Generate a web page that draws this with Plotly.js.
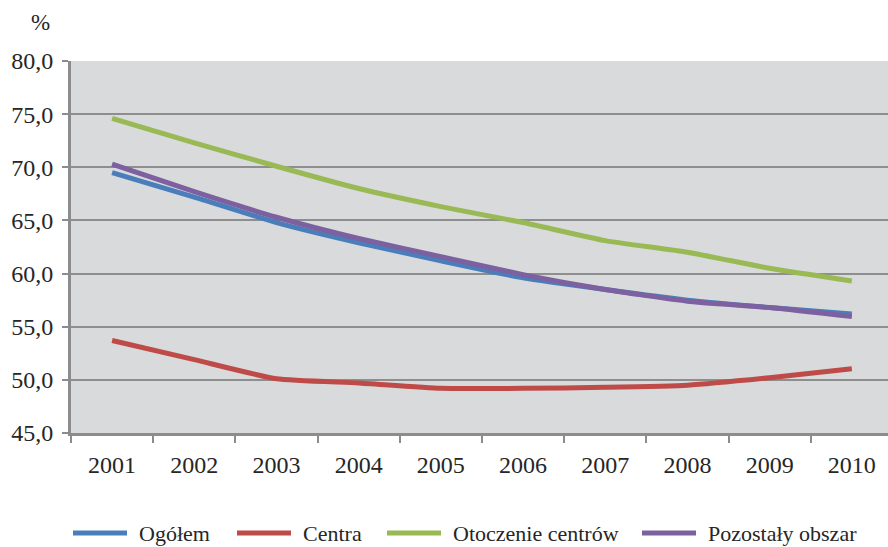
<!DOCTYPE html>
<html>
<head>
<meta charset="utf-8">
<script src="https://cdn.plot.ly/plotly-3.0.1.min.js"></script>
<style>html,body{margin:0;padding:0;background:#fff;}#chart{width:888px;height:547px;}</style>
</head>
<body>
<div id="chart"></div>
<script>
const years = ["2001","2002","2003","2004","2005","2006","2007","2008","2009","2010"];
const ogolem = [69.5, 67.2, 64.8, 62.9, 61.2, 59.6, 58.5, 57.5, 56.8, 56.2];
const centra = [53.7, 51.9, 50.1, 49.7, 49.2, 49.2, 49.3, 49.5, 50.2, 51.05];
const otoczenie = [74.6, 72.3, 70.1, 68.0, 66.3, 64.8, 63.1, 62.0, 60.5, 59.3];
const pozostaly = [70.3, 67.7, 65.3, 63.3, 61.6, 59.9, 58.5, 57.4, 56.8, 55.95];
const seriesNames = ["Ogółem", "Centra", "Otoczenie centrów", "Pozostały obszar"];
const colors = ["#4A7EBB", "#BE4B48", "#98B954", "#7D60A0"];

const font = "'Liberation Serif', 'Times New Roman', serif";
const textColor = "#262626";
const allSeries = [ogolem, centra, otoczenie, pozostaly];
const traces = allSeries.map((vals, i) => ({
  type: "scatter",
  mode: "lines",
  x: years,
  y: vals,
  name: seriesNames[i],
  line: {color: colors[i], width: 5, shape: "spline", smoothing: 0.5},
  hoverinfo: "x+y+name",
  showlegend: false
}));

// Custom legend (long line samples as in the reference), pixel layout converted to paper coords
const plotL = 71, plotW = 817, plotB = 433, plotH = 372;
const legLineStart = [73, 237, 387, 642];
const legLineLen = 54;
const legTextGap = 10;
const legY = 533;
const px2x = p => (p - plotL) / plotW;
const py2y = p => (plotB - p) / plotH;

const shapes = seriesNames.map((n, i) => ({
  type: "line", xref: "paper", yref: "paper",
  x0: px2x(legLineStart[i]), x1: px2x(legLineStart[i] + legLineLen),
  y0: py2y(legY), y1: py2y(legY),
  line: {color: colors[i], width: 5}
}));
const legendAnn = seriesNames.map((n, i) => ({
  text: n, xref: "paper", yref: "paper",
  x: px2x(legLineStart[i] + legLineLen + legTextGap), y: py2y(legY),
  xanchor: "left", yanchor: "middle", showarrow: false,
  font: {family: font, size: 22, color: textColor}
}));

const layout = {
  width: 888, height: 547,
  margin: {l: 71, r: 0, t: 61, b: 114},
  paper_bgcolor: "#ffffff",
  plot_bgcolor: "#D9DADC",
  separators: ", ",
  font: {family: font, size: 23, color: textColor},
  showlegend: false,
  xaxis: {
    type: "category",
    range: [-0.5, 9.44],
    showgrid: false,
    showline: true, linecolor: "#8C8C8C", linewidth: 3,
    ticks: "outside", tickson: "boundaries", ticklen: 7, tickwidth: 2, tickcolor: "#8C8C8C",
    ticklabelstandoff: 8,
    tickfont: {family: font, size: 24, color: textColor},
    automargin: false,
    fixedrange: true
  },
  yaxis: {
    range: [45, 80],
    dtick: 5, tick0: 45,
    tickformat: ".1f",
    showgrid: true, gridcolor: "#8E8E8E", gridwidth: 2,
    zeroline: false,
    showline: true, linecolor: "#8C8C8C", linewidth: 3,
    ticks: "outside", ticklen: 6, tickwidth: 2, tickcolor: "#8C8C8C",
    ticklabelstandoff: 4,
    tickfont: {family: font, size: 24, color: textColor},
    automargin: false,
    fixedrange: true
  },
  shapes: shapes,
  annotations: [{
    text: "%", xref: "paper", yref: "paper",
    x: -31/817, y: 1, xanchor: "center", yanchor: "bottom", yshift: 24,
    showarrow: false, font: {family: font, size: 23, color: textColor}
  }].concat(legendAnn)
};

Plotly.newPlot("chart", traces, layout, {displayModeBar: false});
</script>
</body>
</html>
